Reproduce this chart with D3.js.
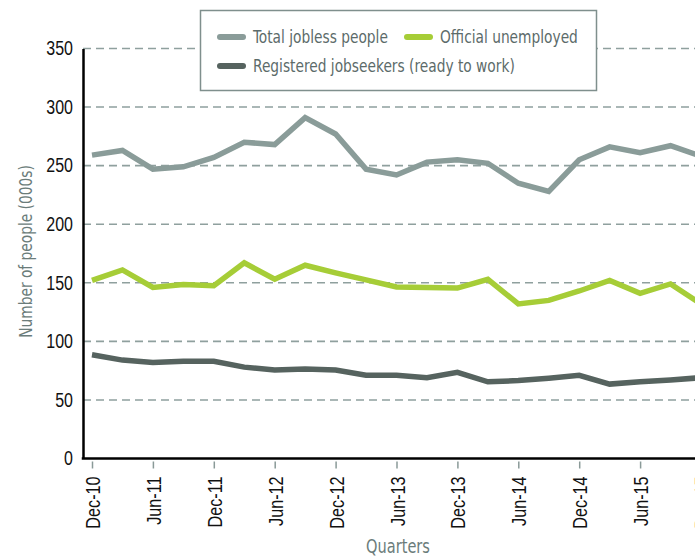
<!DOCTYPE html>
<html>
<head>
<meta charset="utf-8">
<script src="https://cdn.jsdelivr.net/npm/d3@7"></script>
<style>
  html, body { margin: 0; padding: 0; background: #fff; }
  svg { display: block; font-family: "DejaVu Sans Condensed", "DejaVu Sans", sans-serif; font-stretch: condensed; }
</style>
</head>
<body>
<svg id="chart" width="695" height="557"></svg>
<script>
// ---- data ----
const quarters = ["Dec-10","Mar-11","Jun-11","Sep-11","Dec-11","Mar-12","Jun-12","Sep-12","Dec-12",
  "Mar-13","Jun-13","Sep-13","Dec-13","Mar-14","Jun-14","Sep-14","Dec-14","Mar-15","Jun-15","Sep-15","Dec-15"];
const tickLabels = ["Dec-10","Jun-11","Dec-11","Jun-12","Dec-12","Jun-13","Dec-13","Jun-14","Dec-14","Jun-15","Dec-15"];
const totalJobless = [259, 263, 247, 249, 257, 270, 268, 291, 277, 247, 242, 253, 255, 252, 235, 228, 255, 266, 261, 267, 258];
const officialUnemployed = [152, 161, 146, 148.5, 147.5, 167, 153, 165, 158.5, 152.5, 146.5, 146, 145.5, 153, 132, 135, 143, 152, 141, 149, 132];
const registeredJobseekers = [88.5, 84, 82, 83, 83, 78, 75.5, 76.5, 75.5, 71, 71, 69, 73.5, 65.5, 66.5, 68.5, 71, 63.5, 65.5, 67, 69];
const yTicks = [0, 50, 100, 150, 200, 250, 300, 350];
const seriesNames = ["Total jobless people", "Official unemployed", "Registered jobseekers (ready to work)"];
const seriesColors = ["#8a9c99", "#a6cd37", "#56635f"];

// ---- layout ----
const svg = d3.select("#chart");
const plotLeft = 83, plotTop = 48.5, plotBottom = 458.5;
const x = d3.scalePoint().domain(quarters).range([92, 92 + 30.45 * (quarters.length - 1)]);
const y = d3.scaleLinear().domain([0, 350]).range([plotBottom, plotTop]);

// narrow the glyphs to mimic the condensed face of the original
function squeeze(sel, f = 0.85) {
  sel.each(function () {
    const w = this.getComputedTextLength();
    if (w > 0) {
      this.setAttribute("textLength", (w * f).toFixed(2));
      this.setAttribute("lengthAdjust", "spacingAndGlyphs");
    }
  });
}

// gridlines
svg.append("g").selectAll("line").data(yTicks.filter(d => d > 0)).join("line")
  .attr("x1", plotLeft).attr("x2", 695)
  .attr("y1", d => y(d)).attr("y2", d => y(d))
  .attr("stroke", "#8fa09e").attr("stroke-width", 1.6)
  .attr("stroke-dasharray", "8,5");

// lines
const series = [totalJobless, officialUnemployed, registeredJobseekers];
const line = d3.line().x((d, i) => x(quarters[i])).y(d => y(d));
series.forEach((s, k) => {
  svg.append("path").datum(s)
    .attr("d", line)
    .attr("fill", "none")
    .attr("stroke", seriesColors[k])
    .attr("stroke-width", 5.5)
    .attr("stroke-linejoin", "miter");
});

// y axis
const yAxis = d3.axisLeft(y).tickValues(yTicks).tickSize(0).tickPadding(10);
const gy = svg.append("g").attr("transform", `translate(${plotLeft},0)`).call(yAxis);
gy.select(".domain").attr("stroke", "#000").attr("stroke-width", 2.5);
gy.selectAll("text").attr("font-size", 19.5).attr("fill", "#111").attr("font-family", null)
  .call(squeeze, 0.82);

// x axis
const xAxis = d3.axisBottom(x).tickValues(tickLabels).tickSize(0);
const gx = svg.append("g").attr("transform", `translate(0,${plotBottom})`).call(xAxis);
gx.select(".domain").remove();
gx.selectAll(".tick line").remove();
gx.selectAll(".tick").append("line")
  .attr("y1", 3).attr("y2", 10)
  .attr("stroke", "#8a9a98").attr("stroke-width", 1.5);
gx.selectAll("text")
  .attr("font-size", 21).attr("fill", "#111").attr("font-family", null)
  .attr("text-anchor", "end")
  .attr("transform", "rotate(-90)")
  .attr("x", -18).attr("y", 0).attr("dy", "0.36em")
  .call(squeeze, 0.77);
svg.append("line")
  .attr("x1", plotLeft - 1.25).attr("x2", 695)
  .attr("y1", plotBottom).attr("y2", plotBottom)
  .attr("stroke", "#000").attr("stroke-width", 2.5);

// axis titles
svg.append("text")
  .attr("transform", `translate(32,${(plotTop + plotBottom) / 2 - 2}) rotate(-90)`)
  .attr("text-anchor", "middle")
  .attr("font-size", 18).attr("fill", "#6b7c7a")
  .text("Number of people (000s)")
  .call(squeeze);
svg.append("text")
  .attr("x", 398).attr("y", 553)
  .attr("text-anchor", "middle")
  .attr("font-size", 19.5).attr("fill", "#6b7c7a")
  .text("Quarters")
  .call(squeeze, 0.83);

// legend
const lg = svg.append("g");
lg.append("rect").attr("x", 200.5).attr("y", 10.5).attr("width", 396).attr("height", 80)
  .attr("fill", "#fff").attr("stroke", "#7f8f8d").attr("stroke-width", 1.5);
const legendPos = [[217, 37], [404, 37], [217, 66]];
seriesNames.forEach((name, k) => {
  const [lx, ly] = legendPos[k];
  lg.append("line").attr("x1", lx + 3).attr("x2", lx + 26).attr("y1", ly).attr("y2", ly)
    .attr("stroke", seriesColors[k]).attr("stroke-width", 6).attr("stroke-linecap", "round");
  lg.append("text").attr("x", lx + 36).attr("y", ly).attr("dy", "0.35em")
    .attr("font-size", 18).attr("fill", "#5c6b6a").text(name)
    .call(squeeze);
});
</script>
</body>
</html>
